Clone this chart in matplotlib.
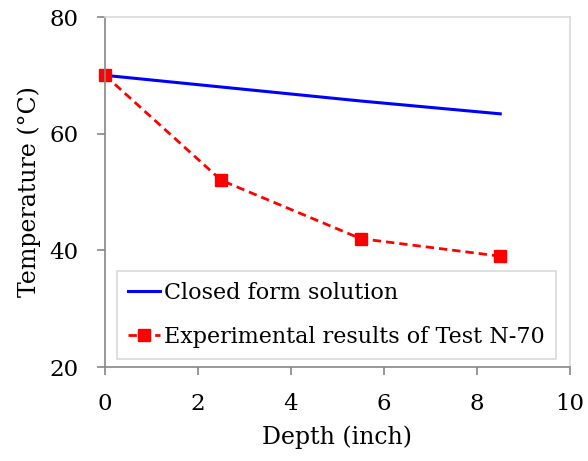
import matplotlib
matplotlib.use("Agg")
import matplotlib.pyplot as plt

depth = [0, 2.5, 5.5, 8.5]
closed_form = [70, 68.0, 65.6, 63.4]
test_n70 = [70, 52, 42, 39]

plt.rcParams['font.family'] = ['DejaVu Serif']

fig = plt.figure(figsize=(5.88, 4.61), dpi=100)
ax = fig.add_axes([105 / 588, 1 - 367 / 461, 465 / 588, 350 / 461])

ax.plot(depth, closed_form, color="#0000ff", lw=2.2, label="Closed form solution")
ax.plot(depth, test_n70, color="#ff0000", lw=2, ls=(0, (3, 1.8)), marker="s",
        ms=8, label="Experimental results of Test N-70", clip_on=False)

ax.set_xlim(0, 10)
ax.set_ylim(20, 80)
ax.set_xticks(range(0, 11, 2))
ax.set_yticks(range(20, 81, 20))
ax.tick_params(labelsize=16.5, color="#868686", length=6, width=1.2, direction="out")
ax.tick_params(axis="x", pad=13)
ax.tick_params(axis="y", pad=13)
for side in ("left", "bottom"):
    ax.spines[side].set_color("#868686")
    ax.spines[side].set_linewidth(1.2)
for side in ("top", "right"):
    ax.spines[side].set_color("#d9d9d9")
    ax.spines[side].set_linewidth(1.2)

ax.set_xlabel("Depth (inch)", fontsize=17, labelpad=7)
ax.set_ylabel("Temperature (°C)", fontsize=17, labelpad=6)

leg = ax.legend(loc="lower left", bbox_to_anchor=(12 / 465, 8 / 350), fontsize=16,
                fancybox=False, edgecolor="#d9d9d9", framealpha=1, handlelength=1.45,
                handletextpad=0.15, borderpad=0.5, labelspacing=1.0, borderaxespad=0)
leg.get_frame().set_linewidth(1.2)

fig.savefig("out.png", dpi=100)
